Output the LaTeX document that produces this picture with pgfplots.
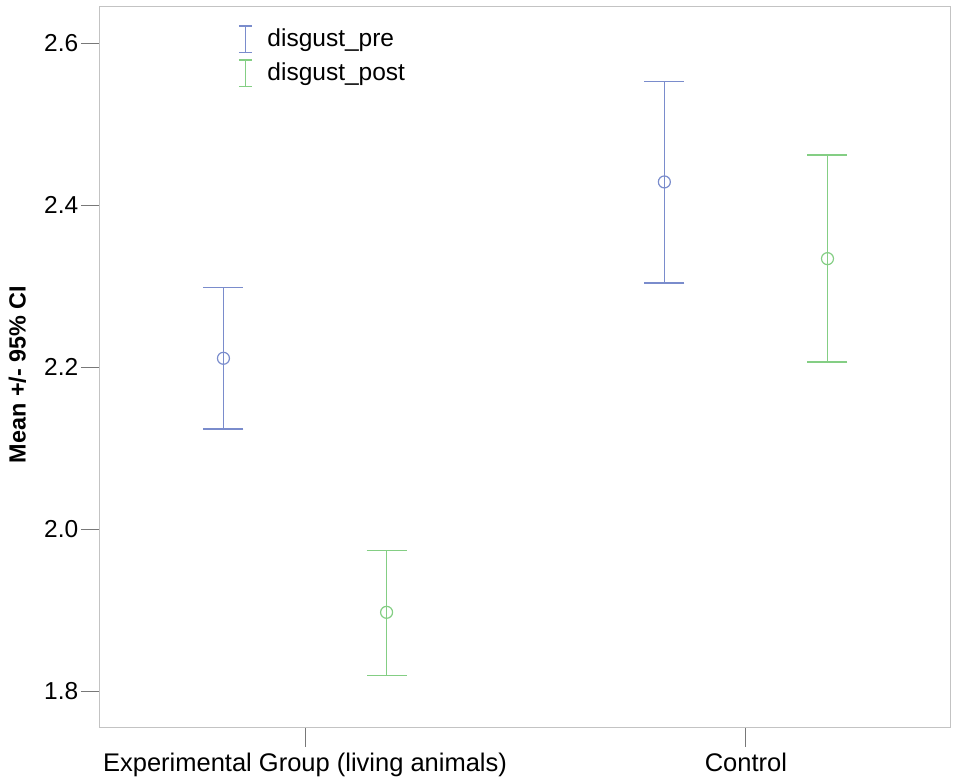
\documentclass[border=0pt]{standalone}
\usepackage{pgfplots}
\pgfplotsset{compat=1.18}
\usepackage{fontspec}
\setmainfont{Liberation Sans}
\definecolor{preC}{RGB}{122,140,204}
\definecolor{postC}{RGB}{132,206,132}
\definecolor{boxC}{RGB}{195,195,195}
\definecolor{tickC}{RGB}{120,120,120}
\begin{document}
\begin{tikzpicture}
\useasboundingbox (-50pt,-26pt) rectangle (427pt,364pt);
\begin{axis}[
  scale only axis,
  width=425.25pt, height=360.5pt,
  xmin=-0.465, xmax=1.464,
  ymin=1.7547, ymax=2.6448,
  xtick={0,1},
  xticklabels={Experimental Group (living animals),Control},
  ytick={1.8,2.0,2.2,2.4,2.6},
  /pgf/number format/fixed,
  /pgf/number format/fixed zerofill,
  /pgf/number format/precision=1,
  /pgf/number format/assume math mode=true,
  tick align=outside,
  major tick length=9.5pt,
  xtick pos=bottom, ytick pos=left,
  axis line style={boxC, line width=0.5pt},
  every tick/.style={tickC, line width=0.5pt},
  tick label style={font=\fontsize{12.25}{14}\selectfont, text=black},
  yticklabel style={inner sep=0pt, xshift=-1.2pt},
  xticklabel style={inner sep=0pt, yshift=-3pt, font=\fontsize{12.75}{14}\selectfont},
  ylabel={\textbf{Mean +/- 95\% CI}},
  ylabel style={at={(axis description cs:-0.0970,0.4903)}, anchor=center, font=\fontsize{11.7}{14}\selectfont},
  legend style={draw=none, fill=none, at={(axis description cs:0.162,0.975)}, anchor=north west,
    font=\fontsize{12.25}{14}\selectfont, row sep=3pt, column sep=2.5pt, inner sep=0pt,
    nodes={inner xsep=5pt, inner ysep=0pt}},
  legend cell align=left,
]
\addplot[preC, only marks, mark=o, mark size=3pt, mark options={line width=0.6pt, draw=preC},
  legend image code/.code={
    \draw[line width=0.75pt, draw=preC] (0pt,-6.6pt) -- (0pt,6.6pt);
    \draw[line width=0.75pt, draw=preC] (-3.2pt,-6.6pt) -- (3.2pt,-6.6pt);
    \draw[line width=0.75pt, draw=preC] (-3.2pt,6.6pt) -- (3.2pt,6.6pt);
  },
  error bars/.cd, y dir=both, y explicit,
  error bar style={line width=0.75pt, draw=preC},
  error mark options={rotate=90, mark size=10pt, line width=0.75pt, draw=preC}]
  table[x=x, y=y, y error plus=ep, y error minus=em] {
  x y ep em
  -0.185 2.2111 0.0872 0.0873
  0.815 2.4288 0.1243 0.1247
};
\addlegendentry{disgust\_pre}
\addplot[postC, only marks, mark=o, mark size=3pt, mark options={line width=0.6pt, draw=postC},
  legend image code/.code={
    \draw[line width=0.75pt, draw=postC] (0pt,-6.6pt) -- (0pt,6.6pt);
    \draw[line width=0.75pt, draw=postC] (-3.2pt,-6.6pt) -- (3.2pt,-6.6pt);
    \draw[line width=0.75pt, draw=postC] (-3.2pt,6.6pt) -- (3.2pt,6.6pt);
  },
  error bars/.cd, y dir=both, y explicit,
  error bar style={line width=0.75pt, draw=postC},
  error mark options={rotate=90, mark size=10pt, line width=0.75pt, draw=postC}]
  table[x=x, y=y, y error plus=ep, y error minus=em] {
  x y ep em
  0.185 1.8975 0.0765 0.0777
  1.185 2.3341 0.1280 0.1276
};
\addlegendentry{disgust\_post}
\end{axis}
\end{tikzpicture}
\end{document}
